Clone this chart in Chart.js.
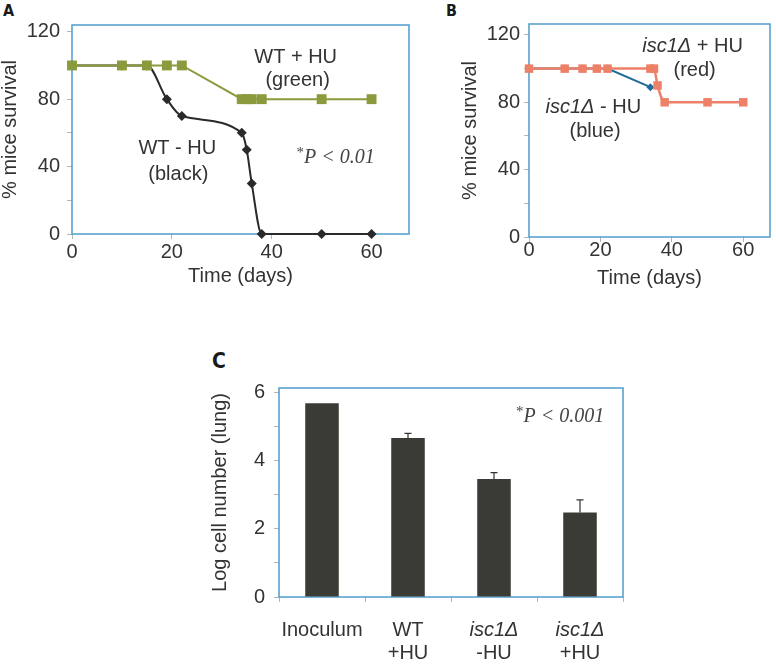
<!DOCTYPE html>
<html><head><meta charset="utf-8">
<script src="https://cdn.jsdelivr.net/npm/chart.js@4"></script>
<style>
body{margin:0;background:#fff;width:776px;height:664px;position:relative;overflow:hidden;font-family:"Liberation Sans",Arial,sans-serif}
canvas{position:absolute}
.lbl{position:absolute;font-weight:bold;font-family:"Liberation Sans Narrow","DejaVu Sans Condensed","Liberation Sans",Arial,sans-serif;color:#1a1a1a;line-height:1}
</style></head><body>
<div class="lbl" style="left:3px;top:3px;font-size:16px">A</div>
<div class="lbl" style="left:446px;top:3px;font-size:16px">B</div>
<div class="lbl" style="left:212px;top:351px;font-size:21px">C</div>
<canvas id="cA" width="440" height="290" style="left:0;top:0"></canvas>
<canvas id="cB" width="326" height="290" style="left:450px;top:0"></canvas>
<canvas id="cC" width="440" height="374" style="left:200px;top:290px"></canvas>
<script>
// ---- Panel A data ----
const daysWTplus  = [0, 10, 15, 19, 22, 34, 35, 36, 38, 50, 60];
const survWTplus  = [100, 100, 100, 100, 100, 80, 80, 80, 80, 80, 80];
const daysWTminus = [0, 10, 15, 19, 22, 34, 35, 36, 38, 50, 60];
const survWTminus = [100, 100, 100, 80, 70, 60, 50, 30, 0, 0, 0];
// ---- Panel B data ----
const daysIscPlus  = [0, 10, 15, 19, 22, 34, 35, 36, 38, 50, 60];
const survIscPlus  = [100, 100, 100, 100, 100, 100, 100, 90, 80, 80, 80];
const daysIscMinus = [0, 10, 15, 19, 22, 34];
const survIscMinus = [100, 100, 100, 100, 100, 89];
// ---- Panel C data ----
const cfuLabels = [['Inoculum'], ['WT', '+HU'], ['isc1Δ', '-HU'], ['isc1Δ', '+HU']];
const cfuMeans  = [5.68, 4.66, 3.46, 2.48];
const cfuErrors = [0, 0.14, 0.19, 0.37];
const italicTerms = ['isc1Δ'];
// ---- Ticks ----
const dayTicks = [0, 20, 40, 60];
const survTicks = [0, 20, 40, 60, 80, 100, 120];
const survLabelled = [0, 40, 80, 120];
const cfuTicks = [0, 1, 2, 3, 4, 5, 6];
const cfuLabelled = [0, 2, 4, 6];

const SANS = '"Liberation Sans", Arial, sans-serif';
const SERIF = '"Liberation Serif", "Times New Roman", serif';
const TXT = '#333333';
const FRAME = '#4f9ccb';
const TICKC = '#b5b5b5';

const xy = (xs, ys) => xs.map((x, i) => ({x: x, y: ys[i]}));

const framePlugin = {
  id: 'frame',
  beforeDatasetsDraw(chart) {
    const a = chart.chartArea, c = chart.ctx;
    c.save(); c.strokeStyle = FRAME; c.lineWidth = 1.5;
    c.strokeRect(a.left, a.top, a.right - a.left, a.bottom - a.top);
    c.restore();
  }
};

function notesPlugin(notes) {
  return {
    id: 'notes',
    afterDraw(chart) {
      const c = chart.ctx, xs = chart.scales.x, ys = chart.scales.y;
      c.save(); c.textBaseline = 'middle'; c.textAlign = 'left';
      notes.forEach(n => {
        let total = 0;
        n.runs.forEach(r => { c.font = r.font; r.w = c.measureText(r.text).width; total += r.w; });
        let x = xs.getPixelForValue(n.x) - total / 2;
        const y = ys.getPixelForValue(n.y);
        n.runs.forEach(r => {
          c.font = r.font; c.fillStyle = r.color || TXT;
          c.fillText(r.text, x, y + (r.dy || 0));
          x += r.w;
        });
      });
      c.restore();
    }
  };
}

function survivalScales(opts) {
  return {
    x: {
      type: 'linear', min: 0, max: 67.5,
      afterBuildTicks: s => { s.ticks = dayTicks.map(v => ({value: v})); },
      afterFit: s => { s.height = opts.xh; },
      grid: {drawOnChartArea: false, tickLength: 5, color: TICKC},
      border: {display: false},
      ticks: {font: {family: SANS, size: 20}, color: TXT, padding: opts.xpad, maxRotation: 0},
      title: {display: true, text: 'Time (days)', color: TXT, font: {family: SANS, size: 20, lineHeight: 1.2}, padding: {top: 0, bottom: opts.xtb}}
    },
    y: {
      type: 'linear', min: 0, max: opts.ymax,
      afterBuildTicks: s => { s.ticks = survTicks.map(v => ({value: v})); },
      afterFit: s => { s.width = opts.yw; },
      grid: {drawOnChartArea: false, tickLength: 5, color: TICKC},
      border: {display: false},
      ticks: {font: {family: SANS, size: 20}, color: TXT, padding: opts.ypad,
              callback: v => survLabelled.includes(v) ? String(v) : ''},
      title: {display: true, text: '% mice survival', color: TXT, font: {family: SANS, size: 20, lineHeight: 1}, padding: {top: opts.ytp, bottom: 0}}
    }
  };
}

const fN = '20px ' + SANS;
const fI = 'italic 20px ' + SANS;
const fS = 'italic 20px ' + SERIF;
const fSup = '15px ' + SERIF;

// ---- Panel A ----
new Chart(document.getElementById('cA'), {
  type: 'scatter',
  data: {datasets: [
    {label: 'WT + HU', data: xy(daysWTplus, survWTplus), showLine: true,
     borderColor: '#8c9a3e', backgroundColor: '#8c9a3e', borderWidth: 2,
     pointStyle: 'rect', pointRadius: 7, pointBorderWidth: 0, tension: 0, clip: false},
    {label: 'WT - HU', data: xy(daysWTminus, survWTminus), showLine: true,
     borderColor: '#2a2a2a', backgroundColor: '#2a2a2a', borderWidth: 2,
     pointStyle: 'rectRot', pointRadius: 5, pointBorderWidth: 0, cubicInterpolationMode: 'monotone', clip: false}
  ]},
  options: {
    responsive: false, animation: false, events: [],
    layout: {padding: {top: 25, right: 31, left: 0, bottom: 0}},
    plugins: {legend: {display: false}, tooltip: {enabled: false}},
    scales: survivalScales({xh: 56, xpad: 1, xtb: 2, ymax: 124, yw: 72, ypad: 7, ytp: 0})
  },
  plugins: [framePlugin, notesPlugin([
    {x: 44.8, y: 105, runs: [{text: 'WT + HU', font: fN}]},
    {x: 45.2, y: 91.3, runs: [{text: '(green)', font: fN}]},
    {x: 21.1, y: 51, runs: [{text: 'WT - HU', font: fN}]},
    {x: 21.3, y: 35.6, runs: [{text: '(black)', font: fN}]},
    {x: 52.8, y: 45, runs: [{text: '*', font: fSup, color: '#444', dy: -5}, {text: 'P < 0.01', font: fS, color: '#444'}]}
  ])]
});

// ---- Panel B ----
new Chart(document.getElementById('cB'), {
  type: 'scatter',
  data: {datasets: [
    {label: 'isc1Δ + HU', data: xy(daysIscPlus, survIscPlus), showLine: true,
     borderColor: '#ef8068', backgroundColor: '#ef8068', borderWidth: 2.5,
     pointStyle: 'rect', pointRadius: 6, pointBorderWidth: 0, cubicInterpolationMode: 'monotone', clip: false},
    {label: 'isc1Δ - HU', data: xy(daysIscMinus, survIscMinus), showLine: true,
     borderColor: '#1f6c9c', backgroundColor: '#1f6c9c', borderWidth: 2,
     pointStyle: 'rectRot', pointRadius: 4, pointBorderWidth: 0, tension: 0, clip: false}
  ]},
  options: {
    responsive: false, animation: false, events: [],
    layout: {padding: {top: 24, right: 1, left: 0, bottom: 0}},
    plugins: {legend: {display: false}, tooltip: {enabled: false}},
    scales: survivalScales({xh: 53, xpad: -4, xtb: 0, ymax: 126.5, yw: 79, ypad: 4, ytp: 10})
  },
  plugins: [framePlugin, notesPlugin([
    {x: 45.8, y: 112.9, runs: [{text: 'isc1Δ', font: fI}, {text: ' + HU', font: fN}]},
    {x: 46.4, y: 98.6, runs: [{text: '(red)', font: fN}]},
    {x: 18.0, y: 76.7, runs: [{text: 'isc1Δ', font: fI}, {text: ' - HU', font: fN}]},
    {x: 18.5, y: 62.5, runs: [{text: '(blue)', font: fN}]}
  ])]
});

// ---- Panel C ----
const errorBarPlugin = {
  id: 'errbars',
  afterDatasetsDraw(chart) {
    const c = chart.ctx, ys = chart.scales.y, meta = chart.getDatasetMeta(0);
    c.save(); c.strokeStyle = '#333'; c.lineWidth = 1.2;
    meta.data.forEach((bar, i) => {
      if (!cfuErrors[i]) return;
      const yt = ys.getPixelForValue(cfuMeans[i] + cfuErrors[i]);
      c.beginPath();
      c.moveTo(bar.x, bar.y); c.lineTo(bar.x, yt);
      c.moveTo(bar.x - 3.5, yt); c.lineTo(bar.x + 3.5, yt);
      c.stroke();
    });
    c.restore();
  }
};
const catLabelPlugin = {
  id: 'catlabels',
  afterDraw(chart) {
    const c = chart.ctx, xs = chart.scales.x, bottom = chart.chartArea.bottom;
    c.save(); c.textAlign = 'center'; c.textBaseline = 'middle'; c.fillStyle = TXT;
    cfuLabels.forEach((lines, i) => {
      const x = xs.getPixelForValue(i);
      lines.forEach((ln, j) => {
        c.font = (italicTerms.includes(ln) ? 'italic ' : '') + '20px ' + SANS;
        c.fillText(ln, x, bottom + 33 + j * 23);
      });
    });
    c.restore();
  }
};

new Chart(document.getElementById('cC'), {
  type: 'bar',
  data: {labels: cfuLabels, datasets: [
    {label: 'Log cell number', data: cfuMeans, backgroundColor: '#3b3b36',
     barPercentage: 0.39, categoryPercentage: 1}
  ]},
  options: {
    responsive: false, animation: false, events: [],
    layout: {padding: {top: 98, right: 17, left: 0, bottom: 0}},
    plugins: {legend: {display: false}, tooltip: {enabled: false}},
    scales: {
      x: {
        afterFit: s => { s.height = 67; },
        grid: {drawOnChartArea: false, tickLength: 5, color: TICKC, offset: true},
        border: {display: false},
        ticks: {display: false}
      },
      y: {
        min: 0, max: 6.13,
        afterBuildTicks: s => { s.ticks = cfuTicks.map(v => ({value: v})); },
        afterFit: s => { s.width = 79; },
        grid: {drawOnChartArea: false, tickLength: 5, color: TICKC},
        border: {display: false},
        ticks: {font: {family: SANS, size: 20}, color: TXT, padding: 9,
                callback: v => cfuLabelled.includes(v) ? String(v) : ''},
        title: {display: true, text: 'Log cell number (lung)', color: TXT, font: {family: SANS, size: 20, lineHeight: 1}, padding: {top: 10, bottom: 0}}
      }
    }
  },
  plugins: [framePlugin, errorBarPlugin, catLabelPlugin, notesPlugin([
    {x: 2.77, y: 5.29, runs: [{text: '*', font: fSup, color: '#444', dy: -5}, {text: 'P < 0.001', font: fS, color: '#444'}]}
  ])]
});
</script>
</body></html>
